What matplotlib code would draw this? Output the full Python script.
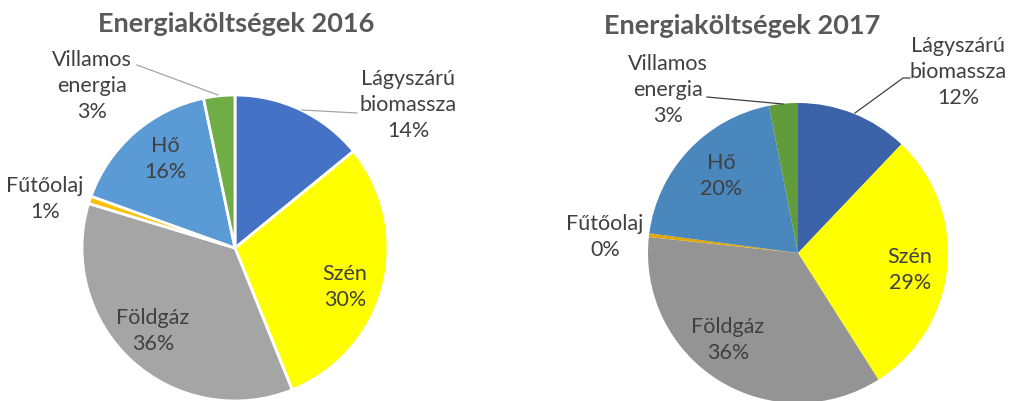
import numpy as np
import matplotlib.pyplot as plt

# data (percent shares, clockwise from the top)
categories = ['Lágyszárú\nbiomassza', 'Szén', 'Földgáz', 'Fűtőolaj', 'Hő', 'Villamos\nenergia']
values_2016 = [14.1, 29.8, 35.8, 0.8, 16.2, 3.3]
values_2017 = [12.1, 28.9, 35.7, 0.4, 19.8, 3.1]
titles = ['Energiaköltségek 2016', 'Energiaköltségek 2017']

colors_2016 = ['#4472C4', '#FFFF00', '#A5A5A5', '#FFC000', '#5B9BD5', '#70AD47']
colors_2017 = ['#3C63AA', '#FFFF00', '#949494', '#E0A800', '#4A87BD', '#629B3C']

plt.rcParams['font.family'] = ['Lato', 'DejaVu Sans']
txt_col = '#404040'

W, H = 1009, 401
fig = plt.figure(figsize=(W / 100, H / 100), dpi=100)
ax = fig.add_axes([0, 0, 1, 1])


def draw_pie(vals, cols, center, r, edge, title, title_xy, label_xy, leaders, lead_col):
    ax.pie(vals, colors=cols, center=center, radius=r, startangle=90,
           counterclock=False, wedgeprops=edge)
    ax.text(title_xy[0], H - title_xy[1], title, ha='center', va='center',
            fontsize=19.5, fontweight='bold', color='#595959')
    for name, v, (x, y) in zip(categories, vals, label_xy):
        ax.text(x, H - y, '%s\n%d%%' % (name, round(v)), ha='center', va='center',
                fontsize=15.5, color=txt_col, linespacing=1.35)
    for pts in leaders:
        xs = [p[0] for p in pts]
        ys = [H - p[1] for p in pts]
        ax.plot(xs, ys, color=lead_col, lw=0.9)


draw_pie(values_2016, colors_2016, (235, H - 248), 153,
         dict(edgecolor='white', linewidth=2),
         titles[0], (236, 24),
         [(408, 105), (345, 287), (153, 331), (45, 199), (165, 159), (92, 86)],
         [[(137, 65), (218, 95)], [(302, 110), (357, 113)]], '#A5A5A5')

draw_pie(values_2017, colors_2017, (798, H - 253), 150,
         dict(edgecolor='none', linewidth=0),
         titles[1], (742, 26),
         [(958, 72), (910, 270), (728, 340), (605, 237), (721, 176), (668, 90)],
         [[(707, 97), (783, 104)], [(855, 113), (903, 78), (910, 78)]], '#404040')

ax.set_xlim(0, W)
ax.set_ylim(0, H)
ax.set_aspect('auto')
ax.axis('off')

fig.savefig('out.png', dpi=100)
